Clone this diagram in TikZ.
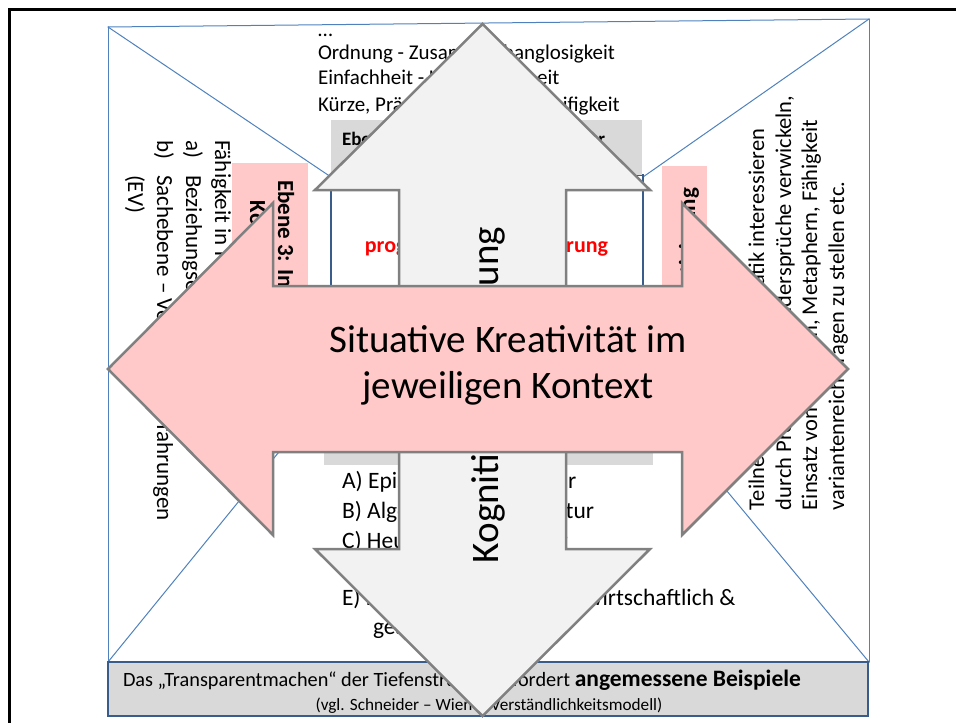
\documentclass[tikz,border=0pt]{standalone}
\usepackage{fontspec}
\setmainfont{Carlito}
\usepackage{tkz-euclide}

\definecolor{rosa}{RGB}{255,201,201}
\definecolor{grisflecha}{RGB}{242,242,242}
\definecolor{grisbox}{RGB}{217,217,217}
\definecolor{bordegris}{RGB}{128,128,128}
\definecolor{azulclaro}{RGB}{79,129,189}
\definecolor{azuloscuro}{RGB}{56,93,138}

\tikzset{
  marco/.style={line width=3pt, black},
  txtBase/.style={inner sep=0pt, outer sep=0pt},
  txtArriba/.style={txtBase, anchor=base west, font=\fontsize{21}{25}\selectfont},
  txtIzq/.style={txtBase, rotate=-90, anchor=base west, font=\fontsize{23}{28}\selectfont},
  txtDer/.style={txtBase, rotate=90, anchor=base west, font=\fontsize{22.5}{27}\selectfont},
  txtLista/.style={txtBase, anchor=base west, font=\fontsize{23.5}{29}\selectfont},
  txtEbene/.style={txtBase, font=\bfseries\fontsize{23}{28}\selectfont},
  txtFlecha/.style={txtBase, font=\fontsize{39}{46}\selectfont},
  flechaGris/.style={draw=bordegris, line width=2.5pt, fill=grisflecha},
  flechaRosa/.style={draw=bordegris, line width=2.5pt, fill=rosa}
}

\begin{document}
\begin{tikzpicture}[x=1pt,y=-1pt]
        \useasboundingbox (0,0) rectangle (956,723);

        % Paso 1: Dibuja el marco negro
        \tkzDefPoint(9.5,723){M}
        \tkzDefPoint(9.5,9.5){N}
        \tkzDefPoint(956,9.5){O}
        \draw[marco] (M) -- (N) -- (O);

        % Paso 2: Define el rectángulo azul y el rectángulo interior
        \tkzDefPoint(108,27){A}
        \tkzDefPoint(869,19){B}
        \tkzDefPoint(869,662){C}
        \tkzDefPoint(108,662){D}
        \tkzDefPoint(331,177){E}
        \tkzDefPoint(643,177){F}
        \tkzDefPoint(643,390){G}
        \tkzDefPoint(331,388){H}

        % Paso 3: Dibuja los bordes y las diagonales
        \tkzDrawSegments[color=azulclaro, line width=1pt](A,B B,C D,A A,E B,F C,G D,H)

        % Paso 4: Textos de arriba
        \node[txtArriba] (puntos) at (318,36) {…};
        \node[txtArriba] (ordnung) at (318,59) {Ordnung - Zusammenhanglosigkeit};
        \node[txtArriba] (einfach) at (318,84) {Einfachheit - Kompliziertheit};
        \node[txtArriba] (kuerze) at (318,111) {Kürze, Prägnanz - Weitschweifigkeit};

        % Paso 5: Texto lateral izquierdo
        \node[txtIzq] (faehig) at (215,140) {Fähigkeit in Kommunikation};
        \node[txtIzq] (itemA) at (186,140) {a)};
        \node[txtIzq] (bezieh) at (186,175) {Beziehungsebene – Gefühle};
        \node[txtIzq] (itemB) at (157,140) {b)};
        \node[txtIzq] (sache) at (157,175) {Sachebene – Vorwissen, Erfahrungen};
        \node[txtIzq] (ev) at (128,175) {(EV)};

        % Paso 6: Texto lateral derecho
        \node[txtDer] (teiln) at (764,510) {Teilnehmer für die Thematik interessieren};
        \node[txtDer] (durch) at (791,510) {durch Provokation, Widersprüche verwickeln,};
        \node[txtDer] (einsatz) at (817,510) {Einsatz von Grafiken, Metaphern, Fähigkeit};
        \node[txtDer] (variant) at (844,510) {variantenreich Fragen zu stellen etc.};

        % Paso 7: Cajas rosas de las ebenen 3 y 4
        \fill[rosa] (232,163) rectangle (308,400);
        \node[txtEbene, rotate=-90, anchor=base west] (ebeneDrei) at (278,180) {Ebene 3: Interaktion};
        \node[txtEbene, rotate=-90, anchor=base] (kommunik) at (250,277) {Kommunikation};
        \fill[rosa] (662,166) rectangle (707,420);
        \node[txtEbene, rotate=90, anchor=base east] (ebeneVier) at (695,188) {Ebene 4: Motivierung};

        % Paso 8: Caja central con ebenen 1 y 2
        \draw[azuloscuro, line width=2pt, fill=white] (331,175) rectangle (643,430);
        \fill[grisbox] (331,120) rectangle (642,175);
        \fill[grisbox] (324,425) rectangle (653,465);
        \node[txtBase, anchor=base west, font=\bfseries\fontsize{19}{23}\selectfont] (ebeneEins) at (342,145) {\makebox[263pt][s]{Ebene 1: Oberflächenstruktur}};
        \node[txtBase, anchor=base, text=red, font=\bfseries\fontsize{22}{26}\selectfont] (progr) at (486.5,252) {progressive Strukturierung};
        \node[txtEbene, anchor=base] (ebeneZwei) at (488,447) {Ebene 2: Tiefenstruktur};

        % Paso 9: Lista de estructuras
        \node[txtLista] (listaA) at (342,488) {A) Epistemische Struktur};
        \node[txtLista] (listaB) at (342,518) {B) Algorithmische Struktur};
        \node[txtLista] (listaC) at (342,548) {C) Heuristische Struktur};
        \node[txtLista] (listaE) at (342,605) {E) Bedeutung: technisch, wirtschaftlich \&};
        \node[txtLista] (listaE2) at (373,634) {gesellschaftlich};

        % Paso 10: Caja gris de abajo
        \draw[azuloscuro, line width=2.5pt, fill=grisbox] (108,662) rectangle (868,716);
        \node[txtBase, anchor=base west, font=\fontsize{20.3}{24}\selectfont] (transp) at (123,686) {Das „Transparentmachen“ der Tiefenstruktur erfordert {\bfseries\fontsize{23.5}{28}\selectfont angemessene Beispiele}};
        \node[txtBase, anchor=base, font=\fontsize{17.2}{20}\selectfont] (vgl) at (489,710) {(vgl. Schneider – Wiener Verständlichkeitsmodell)};

        % Paso 11: Flecha vertical gris
        \draw[flechaGris] (482.5,24) -- (650,190) -- (566,190) -- (566,549) -- (650,549) -- (482.5,716)
              -- (315,549) -- (399,549) -- (399,190) -- (315,190) -- cycle;
        \node[txtFlecha, rotate=90, anchor=base west] (kognitiv) at (498,563) {Kognitive Aktivierung};

        % Paso 12: Flecha horizontal rosa con leyenda
        \draw[flechaRosa] (108,369) -- (273,203) -- (273,286) -- (682,286) -- (682,203) -- (848,369)
              -- (682,535) -- (682,452) -- (273,452) -- (273,535) -- cycle;
        \node[txtFlecha, align=center, anchor=base] (kreativ) at (508,398) {Situative Kreativität im\\jeweiligen Kontext}; % base = última línea
    \end{tikzpicture}
\end{document}
